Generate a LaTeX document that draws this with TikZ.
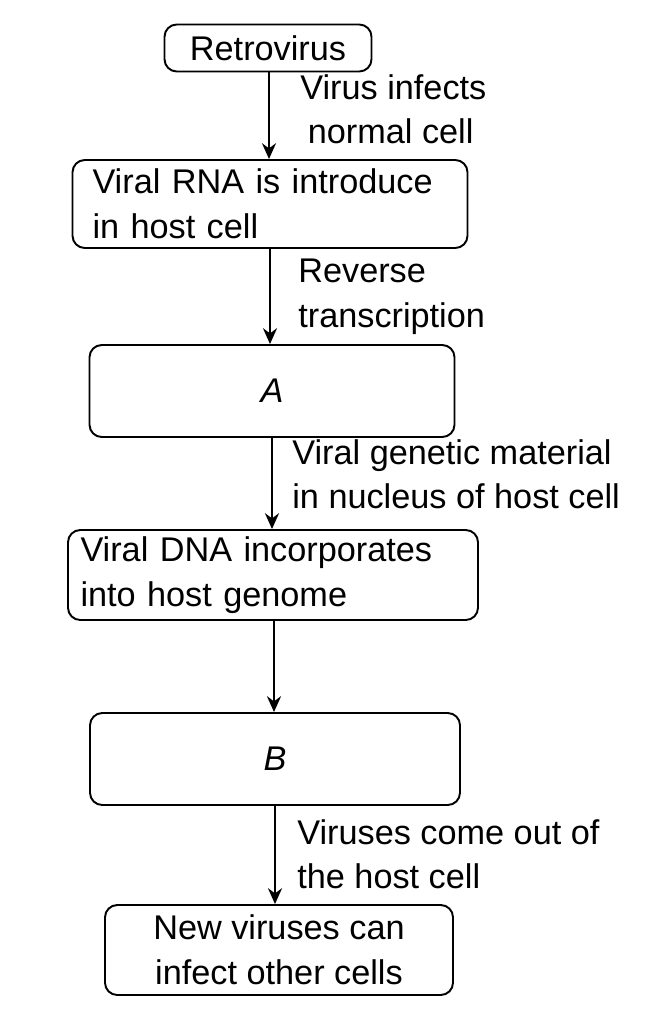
\documentclass[tikz,border=0pt]{standalone}
\usepackage{fontspec}
\setmainfont{Liberation Sans}
\usetikzlibrary{arrows.meta}
\begin{document}
\begin{tikzpicture}[x=0.02cm,y=-0.02cm,
  box/.style={draw, line width=1.1pt, rounded corners=7pt, inner sep=0pt, font=\fontsize{19.5}{25.5}\selectfont},
  lbl/.style={anchor=north west, align=left, inner sep=0pt, font=\fontsize{19.5}{25.5}\selectfont},
  arr/.style={line width=1.1pt, -{Stealth[length=9pt,width=8pt]}}]
\useasboundingbox (0,0) rectangle (651,1024);
\node[box, minimum width=207*0.02cm, minimum height=47*0.02cm] (b1) at (268,48) {Retrovirus};
\node[box, minimum width=395*0.02cm, minimum height=88*0.02cm, text width=355*0.02cm, align=left] (b2) at (270,204) {Viral RNA is introduce\\in host cell};
\node[box, minimum width=365*0.02cm, minimum height=92*0.02cm] (b3) at (272,391) {\itshape A};
\node[box, minimum width=410*0.02cm, minimum height=90*0.02cm, text width=385*0.02cm, align=left] (b4) at (273,575) {Viral DNA incorporates\\into host genome};
\node[box, minimum width=370*0.02cm, minimum height=92*0.02cm] (b5) at (275,759) {\itshape B};
\node[box, minimum width=348*0.02cm, minimum height=90*0.02cm, align=center] (b6) at (279,950) {New viruses can\\infect other cells};
\draw[arr] (b1.south -| 269,0) -- (b2.north -| 269,0);
\draw[arr] (b2.south -| 270,0) -- (b3.north -| 270,0);
\draw[arr] (b3.south -| 272,0) -- (b4.north -| 272,0);
\draw[arr] (b4.south -| 274,0) -- (b5.north -| 274,0);
\draw[arr] (b5.south -| 275,0) -- (b6.north -| 275,0);
\node[lbl] (l1) at (300,74) {Virus infects\\\hspace*{0.15cm}normal cell};
\node[lbl] (l2) at (298,259) {Reverse\\transcription};
\node[lbl] (l3) at (292,439) {Viral genetic material\\in nucleus of host cell};
\node[lbl] (l4) at (297,819) {Viruses come out of\\the host cell};
\end{tikzpicture}
\end{document}
